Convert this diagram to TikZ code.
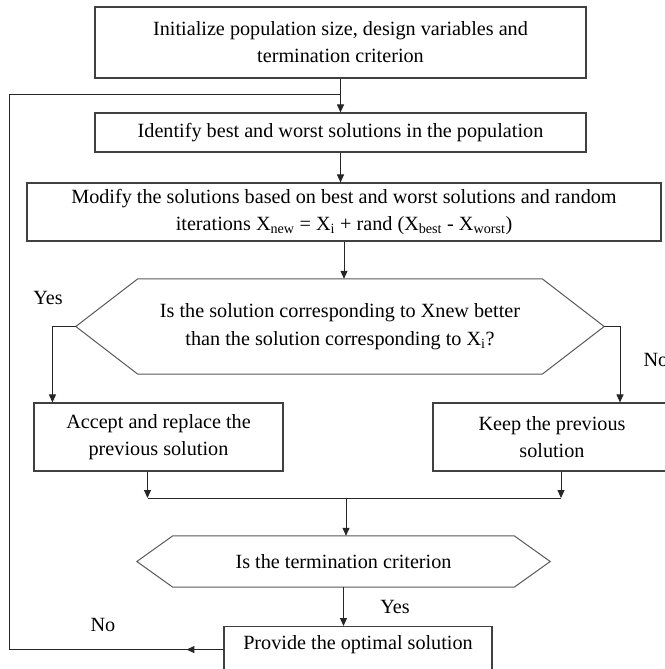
\documentclass[tikz,border=0pt]{standalone}
\usepackage{fontspec}
\setmainfont{Liberation Serif}
\usetikzlibrary{arrows.meta}

\tikzset{
  box/.style={draw=black!75, line width=1.1pt, rectangle, inner sep=0pt, align=center, font=\fontsize{20.2}{27}\selectfont},
  hexnode/.style={inner sep=0pt, align=center, font=\fontsize{20.2}{28}\selectfont},
  hexline/.style={draw=black!65, line width=1pt},
  link/.style={draw=black!85, line width=1pt},
  arr/.style={link, -{Triangle[length=8pt,width=7pt]}},
  lbl/.style={font=\fontsize{20.2}{22}\selectfont}
}

\begin{document}
\begin{tikzpicture}[x=1pt,y=-1pt]
        \useasboundingbox (0,0) rectangle (664,669);

        % Steps
        \node[box, minimum width=491pt, minimum height=71pt] (init) at (340.5,42.5)
          {Initialize population size, design variables and\\ termination criterion};
        \node[box, minimum width=491pt, minimum height=39pt] (ident) at (340.5,132.5)
          {Identify best and worst solutions in the population};
        \node[box, minimum width=634pt, minimum height=58pt] (modify) at (344,212)
          {Modify the solutions based on best and worst solutions and random\\
           iterations X\textsubscript{new} = X\textsubscript{i} + rand (X\textsubscript{best} - X\textsubscript{worst})};

        % First decision
        \node[hexnode, minimum width=528pt, minimum height=95pt] (better) at (340,326.5)
          {Is the solution corresponding to Xnew better\\ than the solution corresponding to X\textsubscript{i}?};
        \draw[hexline] ([xshift=62pt]better.north west) -- ([xshift=-62pt]better.north east)
          -- (better.east) -- ([xshift=-62pt]better.south east)
          -- ([xshift=62pt]better.south west) -- (better.west) -- cycle;

        % Branches
        \node[box, minimum width=249pt, minimum height=68pt] (accept) at (158.5,437)
          {Accept and replace the\\ previous solution};
        \node[box, minimum width=238pt, minimum height=68pt] (keep) at (552,437)
          {Keep the previous\\ solution};

        % Second decision
        \node[hexnode, minimum width=413pt, minimum height=51pt] (term) at (343.5,561.5)
          {Is the termination criterion};
        \draw[hexline] ([xshift=36pt]term.north west) -- ([xshift=-36pt]term.north east)
          -- (term.east) -- ([xshift=-36pt]term.south east)
          -- ([xshift=36pt]term.south west) -- (term.west) -- cycle;

        % Output
        \node[box, minimum width=268pt, anchor=north, inner ysep=9pt, text depth=40pt] (optimal) at (358,626)
          {Provide the optimal solution};

        % Helper points
        \coordinate (merge) at (346,498);
        \coordinate (fbcorner) at (9,94);
        \coordinate (join) at (340.5,94);

        % Connections
        \draw[arr] (init) -- (ident);
        \draw[arr] (ident) -- (ident |- modify.north);
        \draw[arr] (modify) -- (modify |- better.north);
        \draw[arr] (better.west) -| ([xshift=19pt]accept.north west);
        \draw[arr] (better.east) -| ([xshift=68pt]keep.north);
        \draw[arr] ([xshift=-11pt]accept.south) -- ([xshift=-11pt]accept.south |- merge);
        \draw[arr] ([xshift=9pt]keep.south) -- ([xshift=9pt]keep.south |- merge);
        \draw[link] ([xshift=-11pt]accept.south |- merge) -- ([xshift=9pt]keep.south |- merge);
        \draw[arr] (merge) -- (merge |- term.north);
        \draw[arr] (term.south) -- (term.south |- optimal.north);

        % Loop back
        \draw[link] (optimal.base west) -| (fbcorner) -- (join);
        \draw[arr] (optimal.base west) -- ++(-37,0);

        % Labels
        \node[lbl] (yes1) at (48,298) {Yes};
        \node[lbl, anchor=west] (no1) at (640,360) {No};
        \node[lbl] (yes2) at (395,607) {Yes};
        \node[lbl] (no2) at (103,625) {No};
    \end{tikzpicture}
\end{document}
